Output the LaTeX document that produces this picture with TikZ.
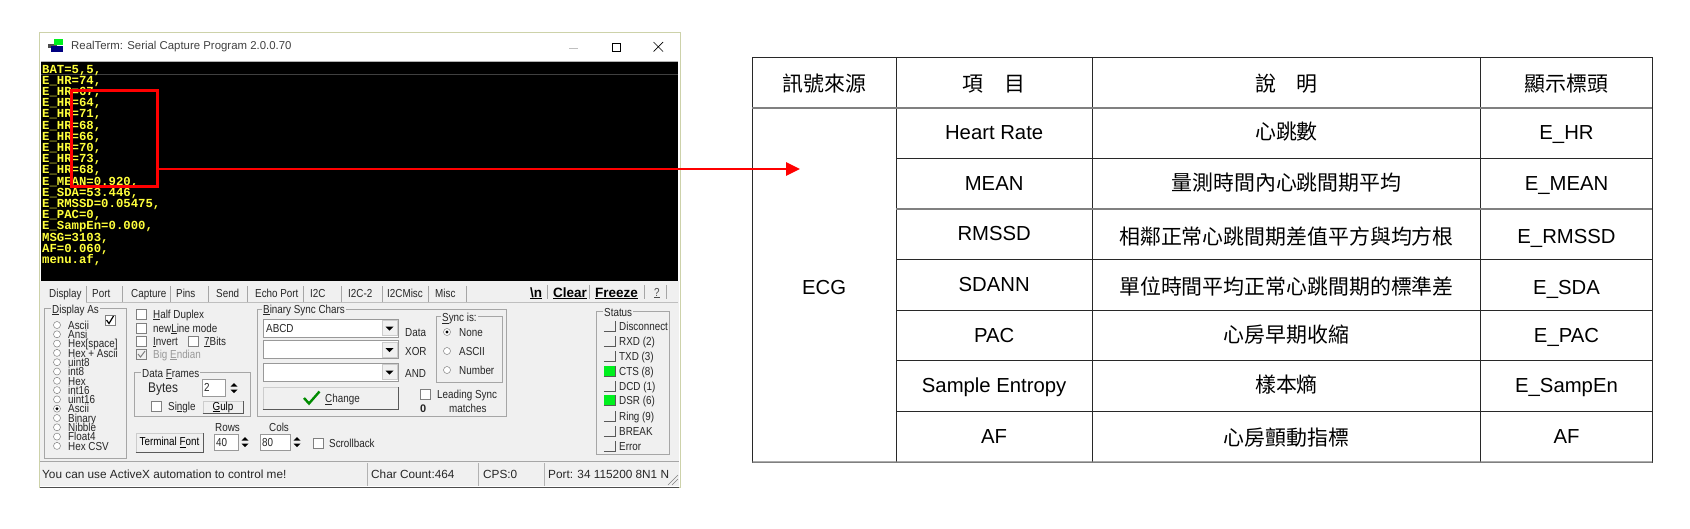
\documentclass[tikz,border=0pt]{standalone}
\usepackage{fontspec}
\setmainfont{Liberation Sans}
\setmonofont{Liberation Mono}
\newfontfamily\cjk[Scale=1.03]{Noto Sans CJK TC}
\newfontfamily\guifont[FakeStretch=0.85]{Liberation Sans}
\usetikzlibrary{arrows.meta, positioning}
\definecolor{panelgray}{RGB}{240,240,240}
\definecolor{tableline}{RGB}{40,40,40}
\definecolor{termyellow}{RGB}{255,255,60}
\definecolor{ledgreen}{RGB}{0,240,30}
\definecolor{winedge}{RGB}{205,210,170}
\newcommand{\raiseedge}[1]{\draw[gray!70!black] (#1.south west) -- (#1.south east) -- (#1.north east);}
\newcommand{\spinner}[2]{%
  \fill[black] (#1-3.5,#2-1.5) -- (#1+3.5,#2-1.5) -- (#1,#2-5) -- cycle;
  \fill[black] (#1-3.5,#2+1.5) -- (#1+3.5,#2+1.5) -- (#1,#2+5) -- cycle;}
\begin{document}
\begin{tikzpicture}[
        x=1pt, y=-1pt,
        cell/.style={rectangle, draw=tableline, line width=0.9pt, outer sep=0pt, inner sep=0pt, minimum height=50.6pt, text height=15pt, text depth=2pt, align=center, font=\fontsize{20.3}{24}\selectfont},
        termtext/.style={anchor=base west, inner sep=0pt, text=termyellow, font=\ttfamily\bfseries\fontsize{12.3}{13}\selectfont},
        lbl/.style={anchor=west, inner sep=0pt, text height=8.5pt, text depth=0pt, text=black!85, font=\guifont\fontsize{11.6}{12}\selectfont},
        barlbl/.style={anchor=west, inner sep=0pt, text height=8.5pt, text depth=0pt, text=black!85, font=\fontsize{11.8}{12}\selectfont},
        grplbl/.style={lbl, fill=panelgray, inner xsep=1pt},
        grp/.style={draw=gray!70, line width=0.7pt},
        radio/.style={circle, draw=gray, fill=white, line width=0.5pt, minimum size=7pt, inner sep=0pt},
        chk/.style={rectangle, draw=gray, fill=white, line width=0.6pt, minimum size=10pt, inner sep=0pt},
        led/.style={rectangle, draw=none, fill=panelgray, minimum width=11pt, minimum height=10.5pt, inner sep=0pt},
        field/.style={rectangle, draw=gray!80, fill=white, line width=0.6pt, inner sep=0pt},
        btn/.style={rectangle, draw=gray!40, fill=panelgray, line width=0.6pt, inner sep=0pt},
        sidebtn/.style={inner sep=0pt, anchor=west, text height=10pt, text depth=0pt, font=\bfseries\fontsize{13.5}{14}\selectfont}
    ]
    \useasboundingbox (0,0) rectangle (1690,528);

    % window
    \draw[winedge, fill=white, line width=0.8pt] (39.3,32.3) rectangle (680,487);
    \fill[black] (41,61.7) rectangle (678,281);
    \draw[gray!60, line width=0.8pt] (41,61.5) -- (678,61.5);
    \draw[black!75!white, line width=0.4pt] (41,74.5) -- (678,74.5);
    \fill[panelgray] (40,281) rectangle (679,486);
    \draw[black!70, line width=1pt] (40,487) -- (679,487);
    \fill[black!70] (48,44) rectangle (57,48);
    \fill[ledgreen] (54,39) rectangle (63,45);
    \fill[blue!50!black] (51,46) rectangle (63,52);
    \node[anchor=west, inner sep=0pt, text=black!75, font=\fontsize{11.4}{13}\selectfont] (title) at (71,47) {RealTerm: Serial Capture Program 2.0.0.70};
    \draw[gray!50, line width=1pt] (569,48) -- (578,48);
    \draw[black, line width=0.9pt] (612,43) rectangle (620,51.5);
    \draw[black, line width=0.7pt] (653.5,42) -- (663,51.5) (663,42) -- (653.5,51.5);

    % terminal
    \foreach \txt [count=\i from 0] in {{BAT=5,5,}, {E\_HR=74,}, {E\_HR=67,}, {E\_HR=64,}, {E\_HR=71,}, {E\_HR=68,}, {E\_HR=66,}, {E\_HR=70,}, {E\_HR=73,}, {E\_HR=68,}, {E\_MEAN=0.920,}, {E\_SDA=53.446,}, {E\_RMSSD=0.05475,}, {E\_PAC=0,}, {E\_SampEn=0.000,}, {MSG=3103,}, {AF=0.060,}, {menu.af,}}
        {\node[termtext] (term\i) at (42,73+11.2*\i) {\txt};}

    % tabs
    \draw[gray!50, line width=0.6pt] (86,302) -- (678,302);
    \foreach \x in {86,122,170,208,247,303,341,382,428,466}
        {\draw[gray!70, line width=0.7pt] (\x,286) -- (\x,302);}
    \foreach \x/\txt [count=\i] in {49/Display, 92/Port, 131/Capture, 176/Pins, 216/Send, 255/Echo Port, 310/I2C, 348/I2C-2, 387/I2CMisc, 435/Misc}
        {\node[lbl] (tab\i) at (\x,293) {\txt};}
    \node[sidebtn] (newline) at (530,292) {\underline{\textbackslash n}};
    \node[sidebtn] (clear) at (553,292) {\underline{Clear}};
    \node[sidebtn] (freeze) at (595,292) {\underline{Freeze}};
    \node[lbl, text=black!70] (help) at (654,292) {\underline{?}};
    \draw[gray!70] (547.5,285) -- (547.5,299) (589,285) -- (589,299) (644,285) -- (644,299) (666,285) -- (666,299);

    % display as
    \draw[grp] (44,308) rectangle (126,458);
    \node[grplbl] (displayas) at (51,309) {\underline{D}isplay As};
    \foreach \y/\txt [count=\i] in {325/Ascii, 334.3/Ansi, 343.6/Hex[space], 352.9/Hex + Ascii, 362.2/uint8, 371.5/int8, 380.8/Hex, 390.1/int16, 399.4/uint16, 408.7/Ascii, 418/Binary, 427.3/Nibble, 436.6/Float4, 445.9/Hex CSV}
        {\node[radio] (rad\i) at (57,\y) {};
         \node[lbl] (radlbl\i) at (68,\y) {\txt};}
    \fill[black] (rad10) circle (1.6);
    \node[chk] (showchk) at (110,320) {};
    \draw[black, line width=1.2pt] (106.5,320) -- (109,323.5) -- (113.5,316);

    % options
    \foreach \y/\txt [count=\i] in {314/\underline{H}alf Duplex, 328/new\underline{L}ine mode, 341/\underline{I}nvert}
        {\node[chk] (opt\i) at (141.5,\y) {};
         \node[lbl] (optlbl\i) at (153,\y) {\txt};}
    \node[chk] (zbits) at (193.5,341) {};
    \node[lbl] (zbitslbl) at (204,341) {\underline{7}Bits};
    \node[chk, fill=panelgray] (endian) at (141.5,354) {};
    \draw[gray, line width=1pt] (138,354) -- (140.5,357) -- (145,351);
    \node[lbl, text=gray!80] (endianlbl) at (153,354) {Big \underline{E}ndian};

    % data frames
    \draw[grp] (134,372) rectangle (250,416);
    \node[grplbl] (frames) at (141,373) {Data \underline{F}rames};
    \node[lbl, font=\guifont\fontsize{14}{15}\selectfont] (bytes) at (148,388) {Bytes};
    \node[field, minimum width=23pt, minimum height=17pt] (bytesval) at (213.5,387.5) {};
    \node[lbl] (bytesnum) at (204,387.5) {2};
    \spinner{234}{388}
    \node[chk] (single) at (156.5,406) {};
    \node[lbl] (singlelbl) at (168,406) {Si\underline{n}gle};
    \node[btn, minimum width=40pt, minimum height=12pt, font=\guifont\fontsize{11.6}{12}\selectfont] (gulp) at (223,407) {\underline{G}ulp};
    \raiseedge{gulp}

    % binary sync chars
    \draw[grp] (257,309) rectangle (506,416);
    \node[grplbl] (binsync) at (262,309) {\underline{B}inary Sync Chars};
    \foreach \y/\txt [count=\i] in {328/ABCD, 349.5/, 372/}
        {\node[field, minimum width=135pt, minimum height=18pt] (combo\i) at (330.5,\y) {};
         \node[btn, minimum width=15pt, minimum height=15pt] (drop\i) at (389.5,\y) {};
         \fill[black] (385.5,\y-1.5) -- (393.5,\y-1.5) -- (389.5,\y+2.5) -- cycle;
         \node[lbl] (combotxt\i) at (266,\y) {\txt};}
    \node[lbl] (datalbl) at (405,332) {Data};
    \node[lbl] (xorlbl) at (405,351) {XOR};
    \node[lbl] (andlbl) at (405,373) {AND};
    \node[btn, minimum width=135pt, minimum height=22pt] (change) at (330.5,398) {};
    \raiseedge{change}
    \draw[green!55!black, line width=2.4pt] (304,398) -- (309,403.5) -- (319.5,391.5);
    \node[lbl] (changelbl) at (325,398) {\underline{C}hange};

    % sync is
    \draw[grp] (436,316) rectangle (502,382);
    \node[grplbl] (syncis) at (441,317) {\underline{S}ync is:};
    \foreach \y/\txt [count=\i] in {332/None, 351/ASCII, 370/Number}
        {\node[radio] (sync\i) at (447,\y) {};
         \node[lbl] (synclbl\i) at (459,\y) {\txt};}
    \fill[black] (sync1) circle (1.6);
    \node[chk] (leading) at (425.5,394) {};
    \node[lbl] (leadinglbl) at (437,394) {Leading Sync};
    \node[lbl, font=\bfseries\fontsize{11}{12}\selectfont] (zero) at (420,408) {0};
    \node[lbl] (matches) at (449,408) {matches};

    % rows, cols
    \node[lbl] (rowslbl) at (215,427) {Rows};
    \node[field, minimum width=24pt, minimum height=16pt] (rowsval) at (226,442) {};
    \node[lbl] (rowsnum) at (216,442) {40};
    \spinner{245}{442}
    \node[lbl] (colslbl) at (269,427) {Cols};
    \node[field, minimum width=30pt, minimum height=16pt] (colsval) at (275,442) {};
    \node[lbl] (colsnum) at (262,442) {80};
    \spinner{297}{442}
    \node[chk] (scroll) at (318,443) {};
    \node[lbl] (scrolllbl) at (329,443) {Scrollback};
    \node[btn, minimum width=67pt, minimum height=19pt, font=\guifont\fontsize{11.6}{12}\selectfont] (termfont) at (169.5,442.5) {Terminal \underline{F}ont};
    \raiseedge{termfont}

    % status
    \draw[grp] (596,311) rectangle (669,454);
    \node[grplbl] (statuslbl) at (603,312) {Status};
    \foreach \y/\txt [count=\i] in {326/Disconnect, 341/RXD (2), 356/TXD (3), 371/CTS (8), 386/DCD (1), 400/DSR (6), 416/Ring (9), 431/BREAK, 446/Error}
        {\node[led] (led\i) at (609.5,\y) {};
         \raiseedge{led\i}
         \node[lbl] (ledlbl\i) at (619,\y) {\txt};}
    \fill[ledgreen] (led4.north west) rectangle (led4.south east);
    \fill[ledgreen] (led6.north west) rectangle (led6.south east);

    % status bar
    \draw[gray!70, line width=0.8pt] (40,461.5) -- (679,461.5);
    \draw[gray!60, line width=0.6pt] (367,463) -- (367,486) (478,463) -- (478,486) (544,463) -- (544,486);
    \node[barlbl] (hint) at (42,474) {You can use ActiveX automation to control me!};
    \node[barlbl] (charcount) at (371,474) {Char Count:464};
    \node[barlbl] (cps) at (483,474) {CPS:0};
    \node[barlbl] (portinfo) at (548,474) {Port: 34 115200 8N1 N};
    \draw[gray, line width=0.6pt] (668,485) -- (678,475) (672,485) -- (678,479);

    % table
    \node[cell, text height=19pt, minimum width=143.7pt] (srchead) at (824.15,82.6) {\cjk 訊號來源};
    \node[cell, text height=19pt, minimum width=196.3pt, right=0pt of srchead] (itemhead) {\cjk 項　目};
    \node[cell, text height=19pt, minimum width=388.4pt, right=0pt of itemhead] (deschead) {\cjk 說　明};
    \node[cell, text height=19pt, minimum width=171.6pt, right=0pt of deschead] (taghead) {\cjk 顯示標頭};

    \node[cell, text height=20pt, minimum width=143.7pt, minimum height=354.2pt, below=0pt of srchead] (srcecg) {ECG};

    \node[cell, minimum width=196.3pt, below=0pt of itemhead] (itemhr) {Heart Rate};
    \node[cell, minimum width=196.3pt, below=0pt of itemhr] (itemmean) {MEAN};
    \node[cell, minimum width=196.3pt, below=0pt of itemmean] (itemrmssd) {RMSSD};
    \node[cell, minimum width=196.3pt, below=0pt of itemrmssd] (itemsdann) {SDANN};
    \node[cell, minimum width=196.3pt, below=0pt of itemsdann] (itempac) {PAC};
    \node[cell, minimum width=196.3pt, below=0pt of itempac] (itemse) {Sample Entropy};
    \node[cell, minimum width=196.3pt, below=0pt of itemse] (itemaf) {AF};

    \node[cell, minimum width=388.4pt, below=0pt of deschead] (deschr) {\cjk 心跳數};
    \node[cell, minimum width=388.4pt, below=0pt of deschr] (descmean) {\cjk 量測時間內心跳間期平均};
    \node[cell, text height=23pt, minimum width=388.4pt, below=0pt of descmean] (descrmssd) {\cjk 相鄰正常心跳間期差值平方與均方根};
    \node[cell, text height=20pt, minimum width=388.4pt, below=0pt of descrmssd] (descsdann) {\cjk 單位時間平均正常心跳間期的標準差};
    \node[cell, minimum width=388.4pt, below=0pt of descsdann] (descpac) {\cjk 心房早期收縮};
    \node[cell, minimum width=388.4pt, below=0pt of descpac] (descse) {\cjk 樣本熵};
    \node[cell, text height=19pt, minimum width=388.4pt, below=0pt of descse] (descaf) {\cjk 心房顫動指標};

    \node[cell, minimum width=171.6pt, below=0pt of taghead] (taghr) {E\_HR};
    \node[cell, minimum width=171.6pt, below=0pt of taghr] (tagmean) {E\_MEAN};
    \node[cell, text height=21pt, minimum width=171.6pt, below=0pt of tagmean] (tagrmssd) {E\_RMSSD};
    \node[cell, text height=20pt, minimum width=171.6pt, below=0pt of tagrmssd] (tagsdann) {E\_SDA};
    \node[cell, minimum width=171.6pt, below=0pt of tagsdann] (tagpac) {E\_PAC};
    \node[cell, minimum width=171.6pt, below=0pt of tagpac] (tagse) {E\_SampEn};
    \node[cell, minimum width=171.6pt, below=0pt of tagse] (tagaf) {AF};

    \draw[gray, line width=1.5pt] (srchead.south west) -- (taghead.south east);
    \draw[gray, line width=1.5pt] (itemmean.south west) -- (tagmean.south east);
    \draw[gray, line width=1.5pt] (srcecg.south west) -- (tagaf.south east);

    % red marker and arrow
    \node[rectangle, draw=red, line width=3pt, minimum width=86.5pt, minimum height=95.4pt, inner sep=0pt] (hrbox) at (114.25,138.5) {};
    \coordinate (arrowtip) at (800,169);
    \draw[-{Triangle[length=14pt,width=13pt]}, red, line width=2.6pt] (hrbox.east |- arrowtip) -- (arrowtip);
\end{tikzpicture}
\end{document}
